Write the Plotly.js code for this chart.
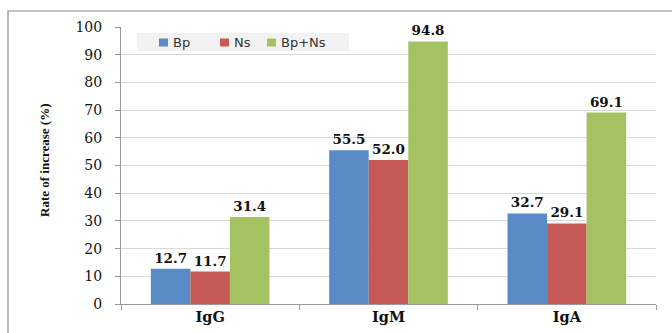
<!DOCTYPE html>
<html>
<head>
<meta charset="utf-8">
<script src="https://cdn.plot.ly/plotly-3.0.1.min.js"></script>
<style>
  html, body { margin: 0; padding: 0; background: #fff; }
  #chart { width: 672px; height: 333px; }
</style>
</head>
<body>
<div id="chart"></div>
<script>
// Immunoglobulin classes on the x axis
const categories = ['IgG', 'IgM', 'IgA'];

// Rate of increase (%) per treatment group
const seriesNames = ['Bp', 'Ns', 'Bp+Ns'];
const bpValues = [12.7, 55.5, 32.7];
const nsValues = [11.7, 52.0, 29.1];
const bpNsValues = [31.4, 94.8, 69.1];

const yTickValues = [0, 10, 20, 30, 40, 50, 60, 70, 80, 90, 100];

const colors = ['#5b8bc6', '#c65a57', '#a5c263'];
const seriesValues = [bpValues, nsValues, bpNsValues];

const wideSerif = "'DejaVu Serif', serif";
const narrowSerif = "'Liberation Serif', 'Times New Roman', serif";
const sans = "'DejaVu Sans', sans-serif";

// Plot area in pixels, used to place the frame and the legend box
const W = 672, H = 333;
const M = { l: 121, r: 16, t: 27, b: 29 };
const plotW = W - M.l - M.r, plotH = H - M.t - M.b;
const px = x => (x - M.l) / plotW;
const py = y => (H - M.b - y) / plotH;

const traces = seriesValues.map((vals, i) => ({
  type: 'bar',
  name: seriesNames[i],
  x: categories,
  y: vals,
  text: vals.map(v => v.toFixed(1)),
  textposition: 'outside',
  constraintext: 'none',
  cliponaxis: false,
  textfont: { family: wideSerif, size: 13.5, color: '#111', weight: 'bold' },
  marker: { color: colors[i], line: { width: 0 } },
  hoverinfo: 'none'
}));

// Legend: light grey strip with a small swatch per series
const legendSwatchX = [159, 220, 267];
const shapes = [
  {
    type: 'rect', xref: 'paper', yref: 'paper',
    x0: px(8), x1: px(720), y0: py(360), y1: py(11),
    line: { color: '#8c8c8c', width: 1.2 },
    fillcolor: 'rgba(0,0,0,0)', layer: 'below'
  },
  {
    type: 'rect', xref: 'paper', yref: 'paper',
    x0: px(137), x1: px(349), y0: py(51), y1: py(33),
    line: { width: 0 }, fillcolor: '#f2f2f2', layer: 'above'
  }
];
const annotations = [
  {
    xref: 'paper', yref: 'paper', x: px(44), y: py(161),
    text: 'Rate of increase (%)', textangle: -90, showarrow: false,
    xanchor: 'center', yanchor: 'middle',
    font: { family: narrowSerif, size: 13, color: '#111', weight: 'bold' }
  }
];
seriesNames.forEach((name, i) => {
  shapes.push({
    type: 'rect', xref: 'paper', yref: 'paper',
    x0: px(legendSwatchX[i]), x1: px(legendSwatchX[i] + 9),
    y0: py(46.5), y1: py(38.5),
    line: { width: 0 }, fillcolor: colors[i], layer: 'above'
  });
  annotations.push({
    xref: 'paper', yref: 'paper', x: px(legendSwatchX[i] + 12), y: py(42.5),
    text: name, showarrow: false, xanchor: 'left', yanchor: 'middle',
    font: { family: sans, size: 13, color: '#333' }
  });
});

const layout = {
  width: W,
  height: H,
  margin: M,
  paper_bgcolor: '#ffffff',
  plot_bgcolor: '#ffffff',
  barmode: 'group',
  bargap: 0.335,
  bargroupgap: 0,
  showlegend: false,
  xaxis: {
    type: 'category',
    tickson: 'boundaries',
    ticks: 'outside',
    ticklen: 5,
    tickcolor: '#9a9a9a',
    showline: true,
    linecolor: '#9a9a9a',
    linewidth: 1,
    showgrid: false,
    tickfont: { family: wideSerif, size: 14.5, color: '#111', weight: 'bold' },
    fixedrange: true
  },
  yaxis: {
    range: [0, 100],
    tickvals: yTickValues,
    ticks: 'outside',
    ticklen: 5,
    tickcolor: '#9a9a9a',
    showline: true,
    linecolor: '#9a9a9a',
    linewidth: 1,
    showgrid: true,
    gridcolor: '#d9d9d9',
    zeroline: false,
    tickfont: { family: wideSerif, size: 14, color: '#111' },
    ticklabelstandoff: 10,
    fixedrange: true
  },
  shapes: shapes,
  annotations: annotations
};

Plotly.newPlot('chart', traces, layout, { displayModeBar: false, staticPlot: true });
</script>
</body>
</html>
